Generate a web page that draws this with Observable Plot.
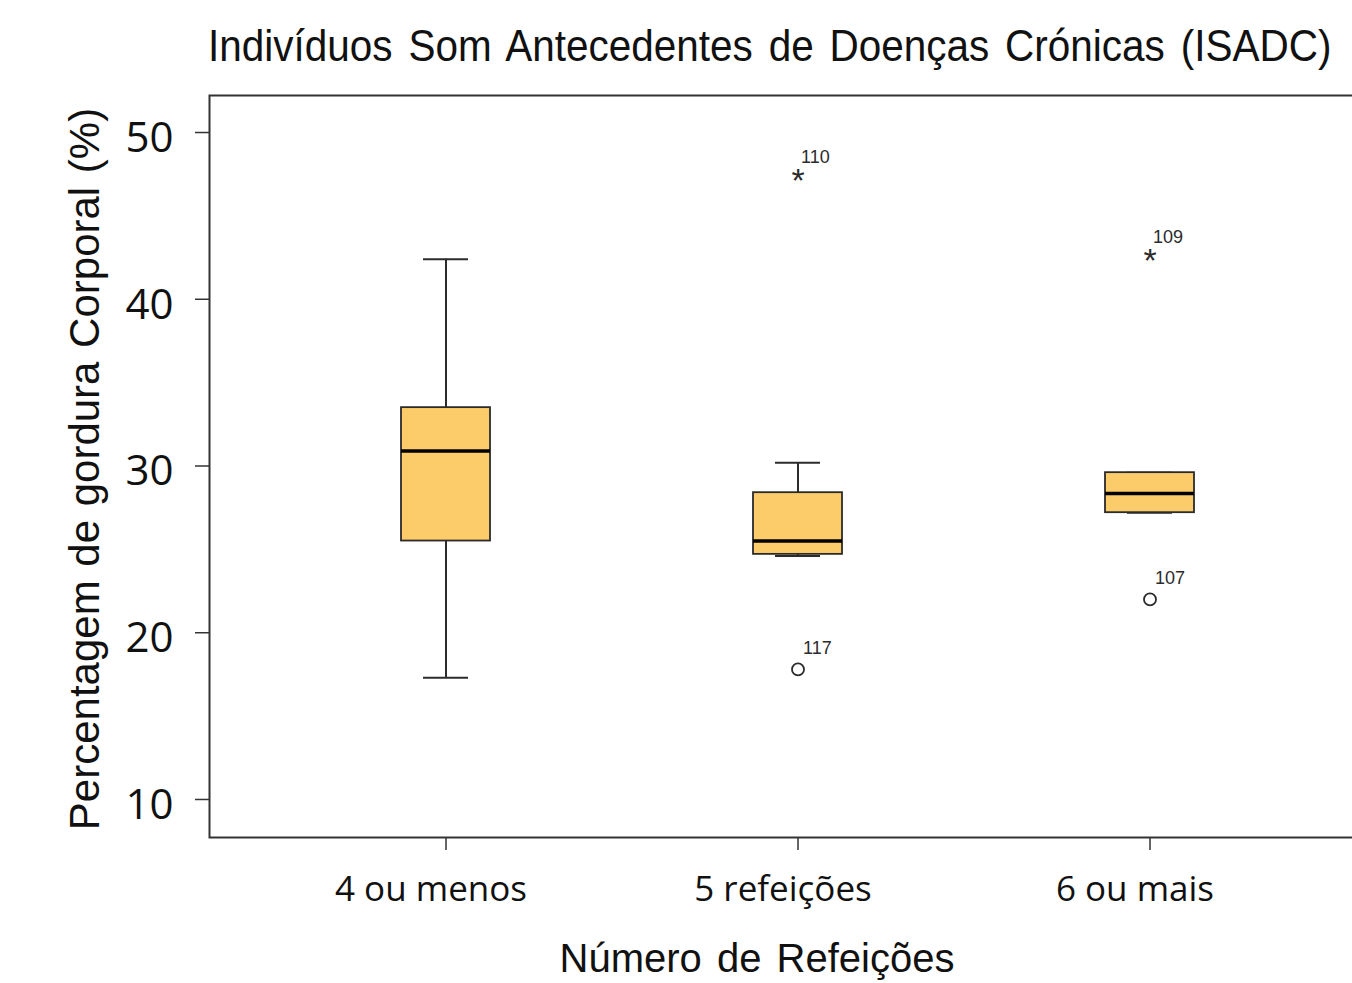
<!DOCTYPE html>
<html><head><meta charset="utf-8">
<script src="https://cdn.jsdelivr.net/npm/d3@7"></script>
<script src="https://cdn.jsdelivr.net/npm/@observablehq/plot@0.6"></script>
<style>
html,body{margin:0;padding:0;background:#fff;overflow:hidden;width:1352px;height:983px;}
#wrap{position:relative;width:1352px;height:983px;overflow:hidden;}
#chart{position:absolute;left:0;top:0;width:1390px;}
#chart svg{max-width:none !important;}
.ov{position:absolute;white-space:nowrap;color:#111;font-family:"Liberation Sans",Arial,sans-serif;line-height:1;}
#title{left:208px;top:24px;font-size:44px;word-spacing:5px;transform:scaleX(0.92);transform-origin:0 0;}
#xlab{left:757px;top:938px;font-size:40px;word-spacing:4px;transform:translateX(-50%);}
#ylab{left:85px;top:469px;font-size:42px;word-spacing:2px;transform:translate(-50%,-50%) rotate(-90deg);}
</style></head>
<body><div id="wrap"><div id="chart"></div>
<div class="ov" id="title">Indivíduos Som Antecedentes de Doenças Crónicas (ISADC)</div>
<div class="ov" id="ylab">Percentagem de gordura Corporal (%)</div>
<div class="ov" id="xlab">Número de Refeições</div>
</div>
<script>
const categories = ["4 ou menos", "5 refeições", "6 ou mais"];
const whiskerLow = [17.3, 24.6, 27.2];
const q1 = [25.5, 24.7, 27.2];
const median = [30.9, 25.5, 28.35];
const q3 = [33.5, 28.4, 29.6];
const whiskerHigh = [42.4, 30.2, 29.6];
const extremeCats = ["5 refeições", "6 ou mais"];
const extremeVals = [47.3, 42.55];
const extremeIds = ["110", "109"];
const mildCats = ["5 refeições", "6 ou mais"];
const mildVals = [17.8, 22.0];
const mildIds = ["117", "107"];
const yTicks = [10, 20, 30, 40, 50];

const boxes = categories.map((c, i) => ({cat: c, lo: whiskerLow[i], q1: q1[i], med: median[i], q3: q3[i], hi: whiskerHigh[i]}));
const extremes = extremeCats.map((c, i) => ({cat: c, v: extremeVals[i], id: extremeIds[i]}));
const milds = mildCats.map((c, i) => ({cat: c, v: mildVals[i], id: mildIds[i]}));

const ink = "#2b2b2b";
const chart = Plot.plot({
  width: 1390, height: 983,
  marginLeft: 209, marginTop: 95, marginBottom: 146, marginRight: 5,
  style: {fontFamily: "'Open Sans', sans-serif", background: "#fff", maxWidth: "none"},
  x: {type: "band", domain: categories, paddingInner: 0.748, paddingOuter: 0.541, label: null},
  y: {domain: [7.72, 52.22], label: null},
  marks: [
    Plot.frame({stroke: "#333", strokeWidth: 2}),
    Plot.axisY({ticks: yTicks, tickSize: 14, text: null, stroke: "#333", strokeWidth: 1.5, label: null}),
    Plot.axisY({ticks: yTicks, tickSize: 0, tickPadding: 36, fontSize: 42, dy: 6, fill: "#111", label: null}),
    Plot.axisX({tickSize: 13, text: null, stroke: "#333", strokeWidth: 1.5, label: null}),
    Plot.axisX({tickSize: 0, tickPadding: 39, fontSize: 35, dx: -15, fill: "#111", label: null}),
    Plot.ruleX(boxes, {x: "cat", y1: "lo", y2: "q1", stroke: ink, strokeWidth: 2}),
    Plot.ruleX(boxes, {x: "cat", y1: "q3", y2: "hi", stroke: ink, strokeWidth: 2}),
    Plot.tickY(boxes, {x: "cat", y: "lo", stroke: ink, strokeWidth: 2, insetLeft: 22, insetRight: 22}),
    Plot.tickY(boxes, {x: "cat", y: "hi", stroke: ink, strokeWidth: 2, insetLeft: 22, insetRight: 22}),
    Plot.barY(boxes, {x: "cat", y1: "q1", y2: "q3", fill: "#FCCB6A", stroke: ink, strokeWidth: 1.8}),
    Plot.tickY(boxes, {x: "cat", y: "med", stroke: "#000", strokeWidth: 3.5}),
    Plot.text(extremes, {x: "cat", y: "v", text: () => "*", fontSize: 34, fill: ink, dy: 4, fontFamily: "'Liberation Sans', sans-serif"}),
    Plot.text(extremes, {x: "cat", y: "v", text: "id", fontSize: 18, fill: ink, dx: 3, dy: -20, textAnchor: "start", fontFamily: "'Liberation Sans', sans-serif"}),
    Plot.dot(milds, {x: "cat", y: "v", r: 6, stroke: ink, strokeWidth: 1.8, fill: "none"}),
    Plot.text(milds, {x: "cat", y: "v", text: "id", fontSize: 18, fill: ink, dx: 5, dy: -21, textAnchor: "start", fontFamily: "'Liberation Sans', sans-serif"})
  ]
});
document.getElementById("chart").appendChild(chart);
</script>
</body></html>
